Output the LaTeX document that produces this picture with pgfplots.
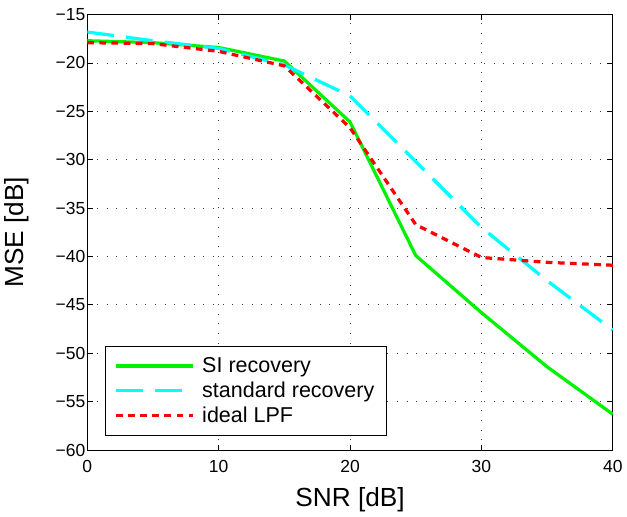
\documentclass[border=0pt]{standalone}
\usepackage{fontspec}
\setmainfont{Liberation Sans}
\usepackage{pgfplots}
\pgfplotsset{compat=1.18}
\begin{document}
\begin{tikzpicture}
\begin{axis}[
    width=391pt, height=324pt,
    scale only axis,
    xmin=0, xmax=40, ymin=-60, ymax=-15,
    xtick={0,10,20,30,40},
    ytick={-60,-55,-50,-45,-40,-35,-30,-25,-20,-15},
    yticklabels={−60,−55,−50,−45,−40,−35,−30,−25,−20,−15},
    tick align=inside,
    major tick length=4pt,
    tick style={black, line width=0.6pt},
    axis line style={black, line width=0.6pt},
    grid=major,
    grid style={black!75, line width=0.6pt, dash pattern=on 0.7pt off 6.5pt},
    xlabel={SNR [dB]},
    ylabel={MSE [dB]},
    label style={font=\fontsize{19.5}{22}\selectfont},
    tick label style={font=\fontsize{13}{15}\selectfont},
    yticklabel style={xshift=2pt},
    xticklabel style={yshift=-4pt},
    /pgf/number format/assume math mode=true,
    xlabel style={yshift=-4pt},
    ylabel style={yshift=13pt},
    legend style={at={(0.033,0.033)}, anchor=south west, draw=black, line width=0.6pt,
        font=\fontsize{16}{18}\selectfont, row sep=1.5pt, column sep=4pt,
        inner xsep=7pt, inner ysep=6pt},
    legend cell align=left,
    legend image code/.code={\draw[#1] (0cm,0cm) -- (2.0cm,0cm);},
]
\addplot[color={rgb,1:red,0;green,0.95;blue,0}, line width=2.4pt] coordinates {
    (0,-17.7) (5,-17.9) (10,-18.4) (15,-19.8) (20,-26.1) (25,-39.9) (30,-45.8) (35,-51.4) (40,-56.3)};
\addplot[color={rgb,1:red,0;green,1;blue,1}, line width=2.4pt, dash pattern=on 20pt off 9pt] coordinates {
    (0,-16.8) (5,-17.7) (10,-18.5) (15,-20.2) (20,-23.4) (25,-30.2) (30,-37.0) (35,-42.5) (40,-47.6)};
\addplot[color=red, line width=2.4pt, dash pattern=on 5pt off 4pt] coordinates {
    (0,-17.9) (5,-18.0) (10,-18.8) (15,-20.3) (20,-26.7) (25,-36.7) (30,-40.1) (35,-40.6) (40,-40.9)};
\legend{SI recovery, standard recovery, ideal LPF}
\end{axis}
\path ([yshift=3pt]current bounding box.north);
\end{tikzpicture}
\end{document}
